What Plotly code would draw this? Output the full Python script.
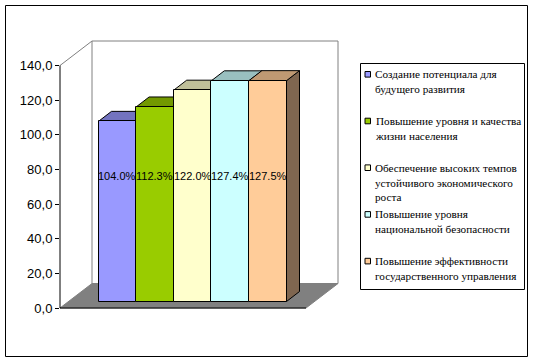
import plotly.graph_objects as go

# ---------------- data ----------------
categories = [
    "Создание потенциала для будущего развития",
    "Повышение уровня и качества жизни населения",
    "Обеспечение высоких темпов устойчивого экономического роста",
    "Повышение уровня национальной безопасности",
    "Повышение эффективности государственного управления",
]
legend_text = [
    "Создание потенциала для<br>будущего развития",
    "Повышение уровня и качества<br>жизни населения",
    "Обеспечение высоких темпов<br>устойчивого экономического<br>роста",
    "Повышение уровня<br>национальной безопасности",
    "Повышение эффективности<br>государственного управления",
]
values = [104.0, 112.3, 122.0, 127.4, 127.5]
value_labels = ["104.0%", "112.3%", "122.0%", "127.4%", "127.5%"]
tick_vals = [0, 20, 40, 60, 80, 100, 120, 140]
tick_text = ["0,0", "20,0", "40,0", "60,0", "80,0", "100,0", "120,0", "140,0"]

front_colors = ["#9999FF", "#99CC00", "#FFFFCC", "#CCFFFF", "#FFCC99"]
top_colors = ["#7373BF", "#739900", "#BFBF99", "#99BFBF", "#BF9973"]
side_colors = ["#5C5C99", "#5C7A00", "#99997A", "#7A9999", "#7F6650"]

# ---------------- geometry (pixels) ----------------
W, H = 535, 363
PL, PR, PT, PB = 60, 338, 41, 308          # plot area
S = 242.5 / 140.0                           # px per value unit
DXP, DYP = 32, 24.5                         # full depth offset of the 3D box
BAR_W = 37.6                                # px per bar
BAR0_LEFT = 98.5
BAR_DEPTH_SHIFT = 6.5                       # px the bar base is raised (depth position)
BDX, BDY = 13, 10                           # bar depth in px
LABEL_Y = 72.5                              # label height inside bars (value units)

y_top = (PB - PT) / S
x0c = BAR0_LEFT + BAR_W / 2
x_range = [(PL - x0c) / BAR_W, (PR - x0c) / BAR_W]
base = BAR_DEPTH_SHIFT / S
ddx = BDX / BAR_W
ddy = BDY / S

SANS = "'Liberation Sans', Arial, sans-serif"
SERIF = "'Liberation Serif', 'Times New Roman', 'DejaVu Serif', serif"


def px(x):
    return (x - PL) / (PR - PL)


def py(y):
    return (PB - y) / (PB - PT)


fig = go.Figure()

fig.add_trace(go.Bar(
    x=list(range(len(values))),
    y=values,
    base=base,
    width=1.0,
    marker=dict(color=front_colors, line=dict(color="black", width=1)),
    hovertext=categories,
    showlegend=False,
))

shapes = []
GRAY = "#808080"
# back wall
shapes.append(dict(type="rect", xref="paper", yref="paper",
                   x0=px(PL + DXP), x1=px(PR), y0=py(PB - DYP), y1=py(PT),
                   fillcolor="white", line=dict(color=GRAY, width=1), layer="below"))
# left wall top edge
shapes.append(dict(type="line", xref="paper", yref="paper",
                   x0=px(PL), y0=py(PB - 140 * S), x1=px(PL + DXP), y1=py(PT),
                   line=dict(color=GRAY, width=1), layer="below"))
# floor
floor = (f"M {px(PL)},{py(PB)} L {px(PR - DXP)},{py(PB)} "
         f"L {px(PR)},{py(PB - DYP)} L {px(PL + DXP)},{py(PB - DYP)} Z")
shapes.append(dict(type="path", xref="paper", yref="paper", path=floor,
                   fillcolor=GRAY, line=dict(color=GRAY, width=1), layer="below"))
# axis lines
shapes.append(dict(type="line", xref="paper", yref="paper",
                   x0=px(PL), y0=py(PB), x1=px(PL), y1=py(PB - 140 * S),
                   line=dict(color="black", width=1), layer="above"))
shapes.append(dict(type="line", xref="paper", yref="paper",
                   x0=px(PL), y0=py(PB), x1=px(PR - DXP), y1=py(PB),
                   line=dict(color="black", width=1), layer="above"))

# 3D faces of bars (side + top), computed from values
for i, v in enumerate(values):
    xl, xr = i - 0.5, i + 0.5
    b, t = base, base + v
    side = (f"M {xr},{b} L {xr + ddx},{b + ddy} L {xr + ddx},{t + ddy} L {xr},{t} Z")
    shapes.append(dict(type="path", xref="x", yref="y", path=side,
                       fillcolor=side_colors[i], line=dict(color="black", width=1),
                       layer="below"))
    top = (f"M {xl},{t} L {xl + ddx},{t + ddy} L {xr + ddx},{t + ddy} L {xr},{t} Z")
    shapes.append(dict(type="path", xref="x", yref="y", path=top,
                       fillcolor=top_colors[i], line=dict(color="black", width=1),
                       layer="below"))

# outer chart border
shapes.append(dict(type="rect", xref="paper", yref="paper",
                   x0=px(5.5), x1=px(527.5), y0=py(356.5), y1=py(5.5),
                   fillcolor="rgba(0,0,0,0)", line=dict(color="black", width=1),
                   layer="above"))

# legend box
LG_L, LG_R, LG_T, LG_B = 360.5, 524.5, 63.5, 289.5
shapes.append(dict(type="rect", xref="paper", yref="paper",
                   x0=px(LG_L), x1=px(LG_R), y0=py(LG_B), y1=py(LG_T),
                   fillcolor="white", line=dict(color="black", width=1), layer="above"))

annotations = []
for i, lab in enumerate(value_labels):
    annotations.append(dict(x=i, y=base + LABEL_Y, xref="x", yref="y", text=lab,
                            showarrow=False,
                            font=dict(family=SANS, size=11, color="black")))

LEG_Y0, LEG_STEP = 74.3, 46.7
for i, txt in enumerate(legend_text):
    yc = LEG_Y0 + i * LEG_STEP
    shapes.append(dict(type="rect", xref="paper", yref="paper",
                       x0=px(365), x1=px(370.5), y0=py(yc + 2.8), y1=py(yc - 2.8),
                       fillcolor=front_colors[i], line=dict(color="black", width=1),
                       layer="above"))
    annotations.append(dict(x=px(373), y=py(yc - 8), xref="paper", yref="paper",
                            xanchor="left", yanchor="top", align="left",
                            text=txt, showarrow=False,
                            font=dict(family=SERIF, size=11.2, color="black")))

fig.update_layout(
    width=W, height=H,
    margin=dict(l=PL, r=W - PR, t=PT, b=H - PB, pad=0, autoexpand=False),
    paper_bgcolor="white", plot_bgcolor="rgba(0,0,0,0)",
    xaxis=dict(range=x_range, visible=False, fixedrange=True),
    yaxis=dict(range=[0, y_top], tickvals=tick_vals, ticktext=tick_text,
               ticks="outside", ticklen=4, tickcolor="black", tickwidth=1,
               showline=False, showgrid=False, zeroline=False, automargin=False,
               tickfont=dict(family=SANS, size=13, color="black")),
    shapes=shapes,
    annotations=annotations,
    showlegend=False,
    bargap=0,
)

fig.write_html("out.html",
               config={"displayModeBar": False},
               post_script="document.body.style.margin='0';document.body.style.overflow='hidden';")
